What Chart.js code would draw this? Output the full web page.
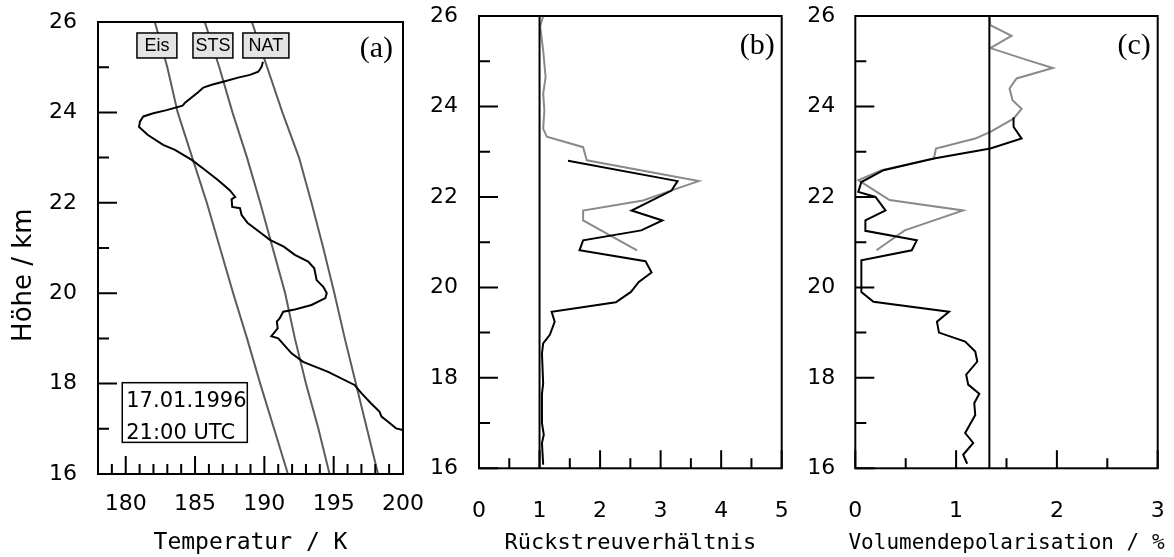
<!DOCTYPE html>
<html>
<head>
<meta charset="utf-8">
<script src="https://cdn.jsdelivr.net/npm/chart.js@4.4.0/dist/chart.umd.min.js"></script>
<style>
  body { margin: 0; background: #fff; width: 1174px; height: 557px; overflow: hidden; position: relative; }
  canvas { position: absolute; top: 0; }
</style>
</head>
<body>
<canvas id="chartA" width="440" height="557" style="left:0px"></canvas>
<canvas id="chartB" width="380" height="557" style="left:410px"></canvas>
<canvas id="chartC" width="384" height="557" style="left:790px"></canvas>
<script>
// ---- (a) Temperaturprofil ----
const tempHeight = [25.12, 25.01, 24.90, 24.83, 24.77, 24.69, 24.61, 24.55, 24.44, 24.22, 24.15, 24.05, 23.98, 23.91, 23.80, 23.68,
  23.50, 23.28, 23.17, 22.95, 22.73, 22.50, 22.28, 22.13, 22.08, 21.91, 21.88, 21.73, 21.55, 21.32, 21.18, 21.03,
  20.85, 20.70, 20.55, 20.29, 20.14, 20.00, 19.89, 19.74, 19.64, 19.59, 19.44, 19.37, 19.22, 19.05, 19.00,
  18.67, 18.48, 18.26, 17.97, 17.79, 17.56, 17.38, 17.27, 17.16, 17.01, 16.97];
const tempValue = [189.9, 189.8, 189.56, 188.96, 188.1, 187.16, 186.2, 185.6, 185.2, 184.3, 184.1, 182.95, 181.99, 181.27, 181.03, 180.96,
  181.6, 182.7, 183.55, 184.76, 185.7, 186.67, 187.5, 187.9, 187.64, 187.68, 188.24, 188.36, 188.8, 189.8, 190.4, 191.4,
  192.2, 193.16, 193.6, 193.77, 194.25, 194.5, 194.4, 193.4, 192.2, 191.36, 191.1, 190.9, 190.96, 190.5, 191.0,
  191.96, 192.8, 194.6, 196.5, 197.0, 197.7, 198.3, 198.45, 198.9, 199.5, 200.0];

const pscHeight = [26, 25, 24, 23, 22, 21, 20, 19, 18, 17, 16];
const eisTemp = [182.1, 183.0, 183.75, 184.8, 185.85, 186.8, 187.75, 188.75, 189.7, 190.7, 191.7];
const stsTemp = [185.7, 186.75, 187.7, 188.75, 189.7, 190.6, 191.5, 192.2, 193.0, 193.9, 194.7];
const natTemp = [189.1, 190.2, 191.3, 192.5, 193.4, 194.25, 195.05, 195.8, 196.6, 197.4, 198.2];
const tempTicks = [180, 185, 190, 195, 200];

// ---- (b) Rückstreuverhältnis ----
const bsrBlackHeight = [22.80, 22.35, 22.14, 21.70, 21.48, 21.26, 21.04, 20.82, 20.58, 20.33, 20.12, 19.90, 19.67, 19.46,
  19.24, 18.95, 18.76, 18.54, 17.87, 17.65, 17.00, 16.74, 16.56, 16.08];
const bsrBlack = [1.47, 3.28, 3.18, 2.52, 3.03, 2.68, 1.72, 1.66, 2.75, 2.85, 2.64, 2.51, 2.26, 1.20,
  1.25, 1.17, 1.06, 1.04, 1.06, 1.04, 1.04, 1.07, 1.04, 1.06];
const bsrGrayHeight = [26.0, 25.77, 25.24, 24.65, 24.28, 23.92, 23.51, 23.33, 23.10, 22.81, 22.35, 22.14, 21.92, 21.70, 21.48, 20.82];
const bsrGray = [1.06, 1.01, 1.06, 1.10, 1.06, 1.08, 1.06, 1.12, 1.72, 1.78, 3.63, 3.17, 2.71, 1.72, 1.72, 2.61];
const bsrRef = [1, 1];

// ---- (c) Volumendepolarisation ----
const depBlackHeight = [23.76, 23.55, 23.29, 23.07, 22.85, 22.59, 22.33, 22.11, 22.00, 21.70, 21.48, 21.25, 21.04, 20.82,
  20.60, 19.90, 19.68, 19.46, 19.24, 19.00, 18.80, 18.58, 18.36, 18.07, 17.85, 17.65, 17.44, 17.18, 16.78, 16.56, 16.30, 16.10];
const depBlack = [1.57, 1.57, 1.65, 1.34, 0.78, 0.28, 0.06, 0.03, 0.20, 0.30, 0.10, 0.10, 0.61, 0.56,
  0.06, 0.06, 0.18, 0.93, 0.81, 0.83, 1.09, 1.19, 1.21, 1.10, 1.12, 1.23, 1.18, 1.19, 1.09, 1.17, 1.07, 1.11];
const depGrayHeight = [26.0, 25.80, 25.56, 25.29, 25.03, 24.85, 24.62, 24.40, 24.14, 23.95, 23.73, 23.44, 23.29, 23.07, 22.85,
  22.59, 22.37, 21.93, 21.70, 21.26, 20.82];
const depGray = [1.33, 1.34, 1.55, 1.34, 1.70, 1.96, 1.60, 1.53, 1.56, 1.65, 1.57, 1.34, 1.19, 0.80, 0.78,
  0.26, 0.03, 0.34, 1.07, 0.49, 0.21];
const depRef = [1.33, 1.33];

const refHeight = [16, 26];
const heightRange = [16, 26];

const BLACK = '#000';
const GRAY = '#8a8a8a';
const CURVE = '#5c5c5c';

function pts(xs, ys) {
  return xs.map((v, i) => ({ x: v, y: ys[i] }));
}
function line(data, color) {
  return { data: data, borderColor: color, borderWidth: 2, pointRadius: 0, showLine: true, tension: 0, fill: false };
}

// frame, inward ticks, axis titles, panel letter and boxes
const framePlugin = {
  id: 'frame',
  afterDatasetsDraw(chart, args, o) {
    const ctx = chart.ctx, a = chart.chartArea;
    const xs = chart.scales.x, ys = chart.scales.y;
    ctx.save();
    ctx.strokeStyle = '#000';
    ctx.lineWidth = 2;
    ctx.beginPath();
    for (let h = heightRange[0]; h <= heightRange[1]; h++) {
      const py = ys.getPixelForValue(h);
      ctx.moveTo(a.left, py);
      ctx.lineTo(a.left + (h % 2 === 0 ? 19 : 11), py);
    }
    for (let v = xs.min; v <= xs.max + 1e-6; v += o.xMinor) {
      const px = xs.getPixelForValue(v);
      const major = Math.abs(v / o.xMajor - Math.round(v / o.xMajor)) < 1e-6;
      ctx.moveTo(px, a.bottom);
      ctx.lineTo(px, a.bottom - (major ? 18 : 10));
    }
    ctx.stroke();
    ctx.strokeRect(a.left, a.top, a.right - a.left, a.bottom - a.top);

    (o.boxes || []).forEach(b => {
      const x0 = xs.getPixelForValue(b.x0), x1 = xs.getPixelForValue(b.x1);
      const y0 = ys.getPixelForValue(b.y0), y1 = ys.getPixelForValue(b.y1);
      ctx.fillStyle = b.fill;
      ctx.fillRect(x0, y0, x1 - x0, y1 - y0);
      ctx.lineWidth = 1.5;
      ctx.strokeRect(x0, y0, x1 - x0, y1 - y0);
      ctx.fillStyle = '#000';
      ctx.font = b.font;
      if (b.lines.length === 1) {
        ctx.textAlign = 'center';
        ctx.textBaseline = 'middle';
        ctx.fillText(b.lines[0], (x0 + x1) / 2, (y0 + y1) / 2 + 1);
      } else {
        ctx.textAlign = 'left';
        ctx.textBaseline = 'alphabetic';
        b.lines.forEach((t, i) => ctx.fillText(t, x0 + 4, y0 + 24 + i * 32));
      }
    });

    ctx.fillStyle = '#000';
    ctx.font = '30px "Liberation Serif"';
    ctx.textAlign = 'right';
    ctx.textBaseline = 'top';
    ctx.fillText(o.letter, a.right - o.letterDx, a.top + o.letterDy);

    ctx.font = o.titleSize + 'px "DejaVu Sans Mono"';
    ctx.textAlign = 'center';
    ctx.textBaseline = 'alphabetic';
    ctx.fillText(o.xTitle, (a.left + a.right) / 2, 549);

    if (o.yTitle) {
      ctx.font = '26px "DejaVu Sans"';
      ctx.translate(31, ys.getPixelForValue(o.yTitleAt));
      ctx.rotate(-Math.PI / 2);
      ctx.textBaseline = 'alphabetic';
      ctx.fillText(o.yTitle, 0, 0);
    }
    ctx.restore();
  }
};

function makeChart(id, datasets, opt) {
  const noPad = s => { s.paddingTop = 0; s.paddingBottom = 0; s.paddingLeft = 0; s.paddingRight = 0; };
  return new Chart(document.getElementById(id), {
    type: 'scatter',
    data: { datasets: datasets },
    options: {
      responsive: false,
      animation: false,
      devicePixelRatio: 1,
      layout: { padding: { top: opt.top, right: opt.right, left: 0, bottom: 0 } },
      plugins: { legend: { display: false }, tooltip: { enabled: false }, frame: opt.frame },
      scales: {
        x: {
          type: 'linear', min: opt.xMin, max: opt.xMax,
          grid: { display: false, drawTicks: false }, border: { display: false },
          ticks: { stepSize: 1, padding: opt.xPad, color: '#000', font: { family: 'DejaVu Sans', size: 22 } },
          afterBuildTicks: opt.xTicks ? (s => { s.ticks = opt.xTicks.map(v => ({ value: v })); }) : undefined,
          afterFit: s => { s.height = opt.xHeight; noPad(s); }
        },
        y: {
          type: 'linear', min: heightRange[0], max: heightRange[1],
          grid: { display: false, drawTicks: false }, border: { display: false },
          ticks: { stepSize: 2, padding: opt.yPad, color: '#000', font: { family: 'DejaVu Sans', size: 22 } },
          afterFit: s => { s.width = opt.yWidth; noPad(s); }
        }
      }
    },
    plugins: [framePlugin]
  });
}

makeChart('chartA', [
  line(pts(tempValue, tempHeight), BLACK),
  line(pts(eisTemp, pscHeight), CURVE),
  line(pts(stsTemp, pscHeight), CURVE),
  line(pts(natTemp, pscHeight), CURVE)
], {
  top: 22, right: 37, yWidth: 98, xHeight: 83, xMin: 178, xMax: 200, xTicks: tempTicks,
  xPad: 17, yPad: 21,
  frame: {
    xMinor: 1, xMajor: 5, letter: '(a)', letterDx: 10, letterDy: 12,
    xTitle: 'Temperatur / K', titleSize: 23, yTitle: 'Höhe / km', yTitleAt: 20.4,
    boxes: [
      { x0: 180.81, x1: 183.69, y0: 25.757, y1: 25.204, fill: '#e4e4e4', font: '18px "Liberation Sans"', lines: ['Eis'] },
      { x0: 184.85, x1: 187.73, y0: 25.757, y1: 25.204, fill: '#e4e4e4', font: '18px "Liberation Sans"', lines: ['STS'] },
      { x0: 188.45, x1: 191.77, y0: 25.757, y1: 25.204, fill: '#e4e4e4', font: '18px "Liberation Sans"', lines: ['NAT'] },
      { x0: 179.75, x1: 188.77, y0: 18.02, y1: 16.70, fill: '#fff', font: '21px "DejaVu Sans"', lines: ['17.01.1996', '21:00 UTC'] }
    ]
  }
});

makeChart('chartB', [
  line(pts(bsrRef, refHeight), BLACK),
  line(pts(bsrBlack, bsrBlackHeight), BLACK),
  line(pts(bsrGray, bsrGrayHeight), GRAY)
], {
  top: 16, right: 8.3, yWidth: 69, xHeight: 88.7, xMin: 0, xMax: 5,
  xPad: 30, yPad: 21,
  frame: { xMinor: 0.5, xMajor: 1, letter: '(b)', letterDx: 7, letterDy: 15,
           xTitle: 'Rückstreuverhältnis', titleSize: 22 }
});

makeChart('chartC', [
  line(pts(depRef, refHeight), BLACK),
  line(pts(depBlack, depBlackHeight), BLACK),
  line(pts(depGray, depGrayHeight), GRAY)
], {
  top: 16, right: 16.3, yWidth: 65.3, xHeight: 88.7, xMin: 0, xMax: 3,
  xPad: 30, yPad: 20,
  frame: { xMinor: 0.5, xMajor: 1, letter: '(c)', letterDx: 7, letterDy: 15,
           xTitle: 'Volumendepolarisation / %', titleSize: 21 }
});
</script>
</body>
</html>
